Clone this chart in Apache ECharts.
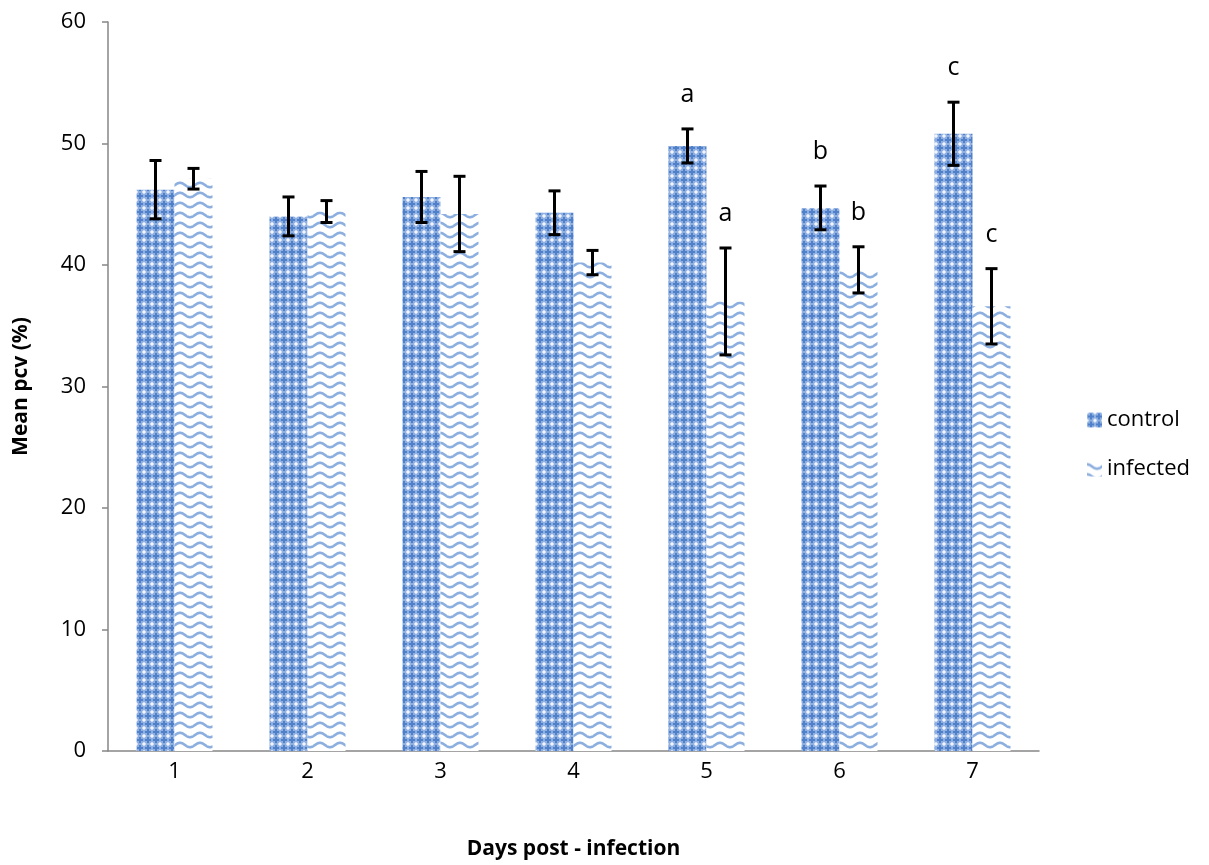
<!DOCTYPE html>
<html>
<head>
<meta charset="utf-8">
<script src="https://cdn.jsdelivr.net/npm/echarts@6/dist/echarts.min.js"></script>
<style>
  html, body { margin: 0; padding: 0; background: #fff; }
  #chart { width: 1209px; height: 865px; }
</style>
</head>
<body>
<div id="chart"></div>
<script>
// data
var days = ['1', '2', '3', '4', '5', '6', '7'];
var controlMean = [46.2, 44.0, 45.6, 44.3, 49.8, 44.7, 50.8];
var controlErr = [2.4, 1.6, 2.1, 1.8, 1.4, 1.8, 2.6];
var infectedMean = [47.1, 44.4, 44.2, 40.2, 37.0, 39.6, 36.6];
var infectedErr = [0.85, 0.9, 3.1, 1.0, 4.4, 1.9, 3.1];
var controlLetters = ['', '', '', '', 'a', 'b', 'c'];
var infectedLetters = ['', '', '', '', 'a', 'b', 'c'];

var FONT = '"Open Sans", Lato, sans-serif';

// pattern fills (Excel style)
function controlPattern() {
  var c = document.createElement('canvas');
  c.width = 8; c.height = 8;
  var g = c.getContext('2d');
  g.fillStyle = '#8fb0e0';
  g.fillRect(0, 0, 8, 8);
  g.fillStyle = '#4f80c9';
  g.fillRect(3, 1, 2, 6);
  g.fillRect(1, 3, 6, 2);
  g.fillStyle = '#f2f6fc';
  // white diamond on the tile corners
  g.fillRect(0, 0, 1, 1); g.fillRect(7, 0, 1, 1);
  g.fillRect(0, 7, 1, 1); g.fillRect(7, 7, 1, 1);
  g.fillStyle = '#cddcf2';
  g.fillRect(1, 0, 1, 1); g.fillRect(6, 0, 1, 1);
  g.fillRect(0, 1, 1, 1); g.fillRect(0, 6, 1, 1);
  g.fillRect(7, 1, 1, 1); g.fillRect(7, 6, 1, 1);
  g.fillRect(1, 7, 1, 1); g.fillRect(6, 7, 1, 1);
  return { image: c, repeat: 'repeat' };
}
function infectedPattern() {
  var c = document.createElement('canvas');
  c.width = 20; c.height = 10;
  var g = c.getContext('2d');
  g.fillStyle = '#ffffff';
  g.fillRect(0, 0, 20, 10);
  g.strokeStyle = '#8cafe0';
  g.lineWidth = 2.6;
  g.beginPath();
  for (var x = -1; x <= 21; x += 0.5) {
    var y = 5 - 2.2 * Math.cos(x / 20 * Math.PI * 2);
    if (x === -1) g.moveTo(x, y); else g.lineTo(x, y);
  }
  g.stroke();
  return { image: c, repeat: 'repeat' };
}

var BAR_FRAC = 38 / 133;

function errorSeries(means, errs, letters, side) {
  var data = means.map(function (m, i) { return [i, m, errs[i]]; });
  return {
    type: 'custom',
    silent: true,
    z: 10,
    data: data,
    renderItem: function (params, api) {
      var i = api.value(0);
      var band = api.size([1, 0])[0];
      var dx = side * band * BAR_FRAC / 2;
      var hi = api.coord([i, api.value(1) + api.value(2)]);
      var lo = api.coord([i, api.value(1) - api.value(2)]);
      var x = hi[0] + dx;
      var cap = 6;
      var st = { stroke: '#000', lineWidth: 3 };
      var children = [
        { type: 'line', shape: { x1: x, y1: hi[1], x2: x, y2: lo[1] }, style: st },
        { type: 'line', shape: { x1: x - cap, y1: hi[1], x2: x + cap, y2: hi[1] }, style: st },
        { type: 'line', shape: { x1: x - cap, y1: lo[1], x2: x + cap, y2: lo[1] }, style: st }
      ];
      var letter = letters[i];
      if (letter) {
        children.push({
          type: 'text',
          style: {
            text: letter, x: x, y: hi[1] - 34,
            fill: '#000', font: '25px ' + FONT,
            align: 'center', verticalAlign: 'middle'
          }
        });
      }
      return { type: 'group', children: children };
    }
  };
}

var chart = echarts.init(document.getElementById('chart'));
chart.setOption({
  animation: false,
  textStyle: { fontFamily: FONT },
  grid: { left: 108, right: 170, top: 22, bottom: 114 },
  legend: {
    orient: 'vertical',
    left: 1082,
    top: 404,
    itemGap: 27,
    itemWidth: 15,
    itemHeight: 15,
    itemTextGap: 6,
    icon: 'rect',
    textStyle: { fontSize: 22, color: '#000', fontFamily: FONT },
    data: ['control', 'infected']
  },
  xAxis: {
    type: 'category',
    data: days,
    name: 'Days post - infection',
    nameLocation: 'middle',
    nameGap: 88,
    nameTextStyle: { fontSize: 21, fontWeight: 'bold', color: '#000' },
    axisLine: { lineStyle: { color: '#868686', width: 1.5 } },
    axisTick: { length: 10, lineStyle: { color: '#868686', width: 1.5 } },
    axisLabel: { fontSize: 22, color: '#000', margin: 10 }
  },
  yAxis: {
    type: 'value',
    min: 0,
    max: 60,
    interval: 10,
    name: 'Mean pcv (%)',
    nameLocation: 'middle',
    nameGap: 76,
    nameTextStyle: { fontSize: 21, fontWeight: 'bold', color: '#000' },
    axisLine: { show: true, lineStyle: { color: '#868686', width: 1.5 } },
    axisTick: { show: true, length: 6, lineStyle: { color: '#868686', width: 1.5 } },
    axisLabel: { fontSize: 22, color: '#000', margin: 22 },
    splitLine: { show: false }
  },
  series: [
    {
      name: 'control',
      type: 'bar',
      data: controlMean,
      barWidth: (BAR_FRAC * 100) + '%',
      barGap: '0%',
      itemStyle: { color: controlPattern() }
    },
    {
      name: 'infected',
      type: 'bar',
      data: infectedMean,
      barWidth: (BAR_FRAC * 100) + '%',
      barGap: '0%',
      itemStyle: { color: infectedPattern() }
    },
    errorSeries(controlMean, controlErr, controlLetters, -1),
    errorSeries(infectedMean, infectedErr, infectedLetters, 1)
  ]
});
</script>
</body>
</html>
